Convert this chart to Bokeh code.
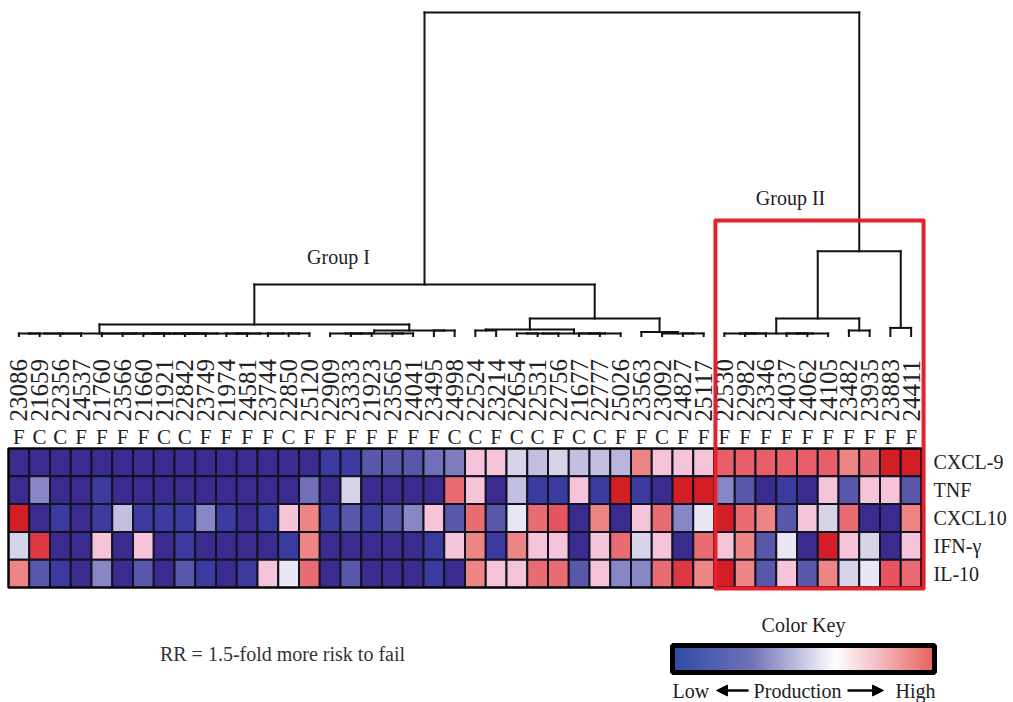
import numpy as np
from bokeh.plotting import figure
from bokeh.models import (Range1d, LinearColorMapper, ColorBar, Arrow, NormalHead,
                          FixedTicker, ColumnDataSource)
from bokeh.core.properties import value
from bokeh.transform import linear_cmap
from bokeh.embed import file_html
from bokeh.resources import INLINE

# ---------------- data ----------------
samples = ["23086", "21659", "22356", "24537", "21760", "23566", "21660", "21921",
           "22842", "23749", "21974", "24581", "23744", "22850", "25120", "22909",
           "23333", "21923", "23565", "24041", "23495", "24998", "22524", "23214",
           "22654", "22531", "22756", "21677", "22777", "25026", "23563", "23092",
           "24827", "25117", "22530", "22982", "23346", "24037", "24062", "24105",
           "23482", "23935", "23883", "24411"]
outcome = ["F", "C", "C", "F", "F", "F", "F", "C", "C", "F", "F", "F", "F", "C", "F", "F",
           "F", "F", "F", "F", "F", "C", "C", "F", "C", "C", "F", "C", "C", "F", "F", "C",
           "F", "F", "F", "F", "F", "F", "F", "F", "F", "F", "F", "F"]
cytokines = ["CXCL-9", "TNF", "CXCL10", "IFN-\u03b3", "IL-10"]

# production level (0 = lowest, 9 = highest)
cxcl9 = [0, 0, 0, 0, 0, 0, 0, 0, 0, 0, 0, 0, 0, 0, 0, 1, 1, 2, 2, 2, 2.5, 2.8,
         6, 6, 4.5, 4, 4.5, 4, 4, 3.8, 7, 6, 6, 6, 7.8, 7.8, 7.8, 7.8, 7.8, 7.8, 7, 7.5, 9, 9]
tnf = [0, 3, 0, 0, 1, 0, 0, 0, 0, 0, 0, 0, 0, 0, 2.5, 0, 4.5, 0, 0, 0, 0, 7.5,
       6, 0, 4, 1, 1, 6, 1, 9, 1, 0, 9, 9, 3, 2, 0, 1, 0, 6, 2, 6, 6, 2]
cxcl10 = [9, 0, 1, 0, 1, 4, 1, 1, 1, 3, 1, 0, 1, 6, 7, 1, 2, 1, 2, 3, 6, 2,
          7.5, 2, 5, 7.5, 8, 0, 7, 0, 6, 7.5, 3, 5, 9, 7.5, 7, 2, 6, 4.5, 7.5, 0, 0, 7]
ifng = [4.5, 8.5, 0, 0, 6, 0, 6, 0, 1, 0, 0, 0, 0, 1, 7, 0, 0, 0, 0, 0, 1, 6,
        7, 1, 7, 6, 6, 0, 6, 7.5, 4.5, 6, 0, 7.5, 6, 7, 2, 5, 0, 9, 6, 4.5, 0, 6]
il10 = [7, 2, 1, 0, 3, 0, 2, 0, 2, 1, 0, 1, 6, 5, 7.5, 0, 2, 0, 0, 0, 1, 0,
        7, 6, 6, 7.5, 7.5, 2, 6, 3, 3, 7.5, 8.5, 7, 9, 7, 2, 6, 2, 7, 4.5, 5, 8, 7.5]
rows = [cxcl9, tnf, cxcl10, ifng, il10]
for r in rows:
    assert len(r) == len(samples)

# dendrogram: [merge height, left, right]; leaves are column indices
g1_left = [0.8, [0.8, [0.8, [0.8, 0, 1], 2], 3],
           [0.8, 4, [0.8, 5, [0.8, [0.8, [0.8, 6, 7], [0.8, 8, 9]],
                              [0.8, [0.8, 10, 11], [0.8, 12, [0.8, 13, 14]]]]]]]
g1_right = [1.7, [0.8, [0.8, 15, [0.8, 16, 17]], [0.8, 18, 19]], [1.7, 20, 21]]
mid_a = [2.0, [1.7, 22, 23], [0.8, [0.8, [0.8, 24, 25], 26], [0.8, [0.8, 27, 28], 29]]]
mid_b = [1.2, 30, [0.8, 31, [0.8, 32, 33]]]
g2_a = [0.8, [0.8, 34, [0.8, 35, 36]], [0.8, [0.8, 37, 38], 39]]
g2_b = [1.7, 40, 41]
g2_c = [2.5, 42, 43]
tree = [100, [15.9, [3.55, g1_left, g1_right], [5.4, mid_a, mid_b]],
        [26.2, [5.4, g2_a, g2_b], g2_c]]
group2_cols = (34, 43)

# ---------------- layout ----------------
W, H = 1013, 702
X_LEFT, CW = 8.0, 913.0 / 44
ROW_TOP, RH = 448.0, 27.8
LEAF_PY, HSCALE = 335.5, 3.235
FONT = value("Liberation Serif")


def px_x(px):
    return (px - X_LEFT) / CW - 0.5


p = figure(width=W, height=H, output_backend="svg", toolbar_location=None,
           x_range=Range1d(px_x(0), px_x(W)), y_range=Range1d(H, 0),
           min_border=0, outline_line_color=None, background_fill_color="white",
           border_fill_color="white")
p.xaxis.visible = False
p.yaxis.visible = False
p.xgrid.visible = False
p.ygrid.visible = False

# heat-map palette
stops = [(0, "#3b2b8f"), (1, "#3b3a9e"), (2, "#5a58aa"), (3, "#8886c5"), (4, "#c4c0e0"),
         (5, "#e9e7f4"), (6, "#f6c4d8"), (7, "#ee8686"), (8, "#e65462"), (9, "#d41e26")]


def interp_palette(st, n=256):
    pos = np.array([s[0] for s in st], dtype=float)
    pos = (pos - pos[0]) / (pos[-1] - pos[0])
    rgb = np.array([[int(s[1][i:i + 2], 16) for i in (1, 3, 5)] for s in st], dtype=float)
    t = np.linspace(0, 1, n)
    out = []
    for tt in t:
        c = [np.interp(tt, pos, rgb[:, k]) for k in range(3)]
        out.append("#%02x%02x%02x" % tuple(int(round(v)) for v in c))
    return out


heat_pal = interp_palette(stops)

xs, ys, vs = [], [], []
for ri, row in enumerate(rows):
    for ci, v in enumerate(row):
        xs.append(ci)
        ys.append(ROW_TOP + RH * (ri + 0.5))
        vs.append(v)
src = ColumnDataSource(dict(x=xs, y=ys, v=vs))
p.rect(x="x", y="y", width=1, height=RH, source=src,
       fill_color=linear_cmap("v", heat_pal, 0, 9), line_color="#121225", line_width=2)
n = len(samples)
p.quad(left=[-0.5], right=[n - 0.5], top=[ROW_TOP], bottom=[ROW_TOP + RH * len(rows)],
       fill_color=None, line_color="black", line_width=2)

# sample ids and outcome letters
p.text(x=list(range(n)), y=[421] * n, text=samples, angle=np.pi / 2,
       text_align="left", text_baseline="middle", text_font=FONT,
       text_font_size="25px", text_color="#222222")
p.text(x=list(range(n)), y=[436.5] * n, text=outcome, text_align="center",
       text_baseline="middle", text_font=FONT, text_font_size="21px",
       text_color="#222222")

# row labels
p.text(x=[px_x(933)] * len(cytokines), y=[ROW_TOP + RH * (i + 0.5) for i in range(len(cytokines))],
       text=cytokines, text_align="left", text_baseline="middle", text_font=FONT,
       text_font_size="20px", text_color="#222222")

# dendrogram
x0s, y0s, x1s, y1s = [], [], [], []


def hy(h):
    return LEAF_PY - h * HSCALE


def walk(node):
    if isinstance(node, int):
        return float(node), 0.0
    h, a, b = node
    xa, ha = walk(a)
    xb, hb = walk(b)
    x0s.extend([xa, xa, xb]); x1s.extend([xb, xa, xb])
    y0s.extend([hy(h), hy(h), hy(h)]); y1s.extend([hy(h), hy(ha), hy(hb)])
    return (xa + xb) / 2, h


walk(tree)
p.segment(x0=x0s, y0=y0s, x1=x1s, y1=y1s, line_color="#111111", line_width=2,
          line_cap="square")

# group labels and highlight box
p.text(x=[px_x(338), px_x(790)], y=[256, 197], text=["Group I", "Group II"],
       text_align="center", text_baseline="middle", text_font=FONT,
       text_font_size="20px", text_color="#222222")
g0, g1 = group2_cols
p.quad(left=[g0 - 0.43], right=[g1 + 0.6], top=[220], bottom=[588], fill_color=None,
       line_color="#e8202a", line_width=4, line_join="round")

# RR note
p.text(x=[px_x(282)], y=[653], text=["RR = 1.5-fold more risk to fail"],
       text_align="center", text_baseline="middle", text_font=FONT,
       text_font_size="20px", text_color="#333333")

# colour key
key_pal = interp_palette([(0, "#2f4aa4"), (0.3, "#6f72b8"), (0.5, "#c9c8e4"),
                          (0.62, "#ffffff"), (0.78, "#f5c0c4"), (1.0, "#e8605a")])
key_mapper = LinearColorMapper(palette=key_pal, low=0, high=9)
cb = ColorBar(color_mapper=key_mapper, orientation="horizontal", location=(672, 30),
              width=262, height=27, padding=0, ticker=FixedTicker(ticks=[]),
              major_label_text_font_size="0px", major_tick_line_color=None,
              minor_tick_line_color=None, bar_line_color="black", bar_line_width=5,
              border_line_color=None, background_fill_alpha=0, label_standoff=0,
              title_standoff=0)
p.add_layout(cb, "center")
p.text(x=[px_x(803)], y=[624], text=["Color Key"], text_align="center",
       text_baseline="middle", text_font=FONT, text_font_size="20px", text_color="#222222")
p.text(x=[px_x(672), px_x(797), px_x(935)], y=[690, 690, 690],
       text=["Low", "Production", "High"], text_align=["left", "center", "right"],
       text_baseline="middle", text_font=FONT, text_font_size="20px", text_color="#222222")
p.add_layout(Arrow(end=NormalHead(size=11, fill_color="black", line_color="black"),
                   x_start=px_x(748), y_start=690, x_end=px_x(716), y_end=690,
                   line_width=2.5, line_color="black"))
p.add_layout(Arrow(end=NormalHead(size=11, fill_color="black", line_color="black"),
                   x_start=px_x(847), y_start=690, x_end=px_x(883), y_end=690,
                   line_width=2.5, line_color="black"))

open("out.html", "w").write(file_html(p, INLINE))
